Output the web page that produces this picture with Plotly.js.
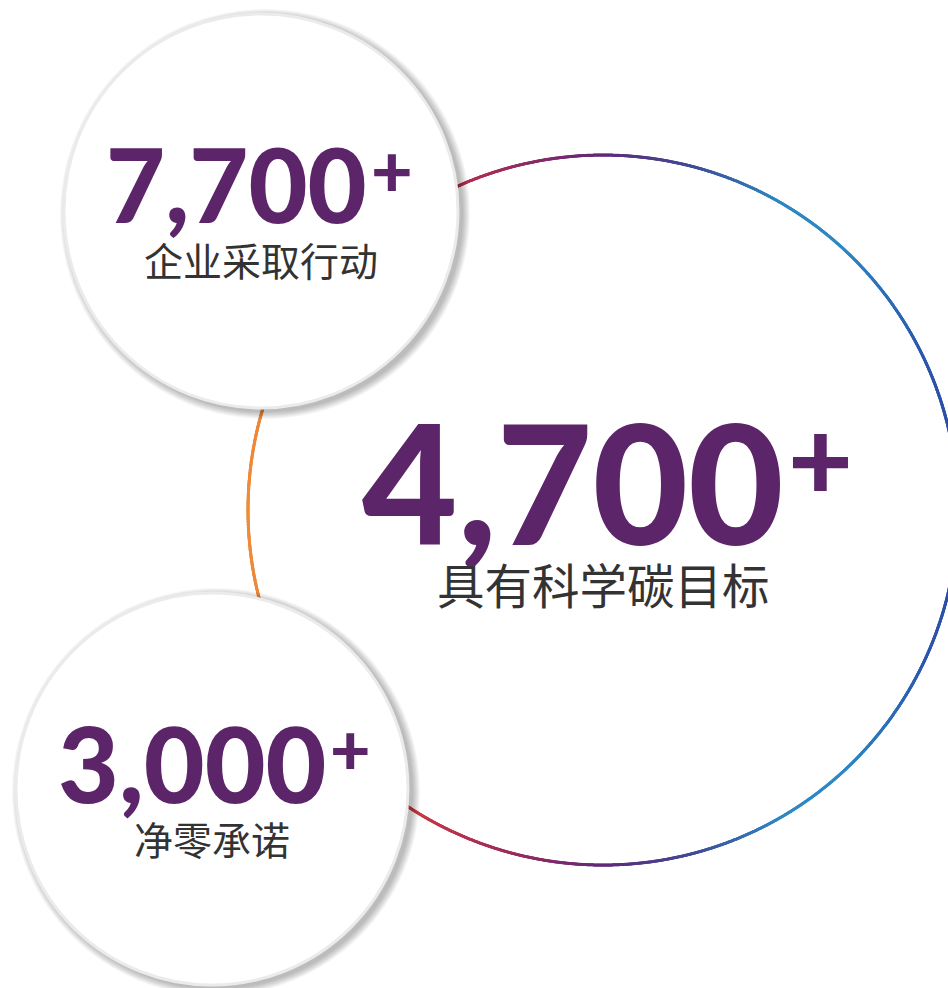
<!DOCTYPE html>
<html>
<head>
<meta charset="utf-8">
<script src="https://cdn.plot.ly/plotly-3.0.1.min.js"></script>
<style>
  html, body { margin: 0; padding: 0; background: #ffffff; }
  #chart { width: 948px; height: 988px; }
</style>
</head>
<body>
<div id="chart"></div>
<script>
// ---- data ----
const values = [7700, 4700, 3000];
const labels = ['企业采取行动', '具有科学碳目标', '净零承诺'];
const suffix = '+';

// ---- layout geometry (pixel coordinates) ----
const W = 948, H = 988;
const bubbles = [
  { cx: 261, cy: 211, r: 197, kind: 'disc', numSize: 102, numRight: 364, capY: 186.5, plusSize: 72, plusLeft: 373, plusY: 175, labelSize: 39, labelY: 261 },
  { cx: 603, cy: 510, r: 355, kind: 'ring', numSize: 165, numRight: 778, capY: 486, plusSize: 112, plusLeft: 793, plusY: 465, labelSize: 47.5, labelY: 586 },
  { cx: 212, cy: 789, r: 196, kind: 'disc', numSize: 105, numRight: 323, capY: 765.5, plusSize: 70, plusLeft: 332, plusY: 753, labelSize: 39, labelY: 840 }
];
const purple = '#5d2569';
const grey = '#333333';
const ringScale = [
  [0.00, '#ee8c3a'], [0.10, '#e2693c'], [0.22, '#d03c40'], [0.30, '#b5304f'],
  [0.42, '#842a6a'], [0.50, '#5f2a7a'], [0.63, '#3f4c98'], [0.75, '#2e88c2'],
  [0.84, '#2e88c4'], [0.95, '#2c58ad'], [1.00, '#2b4ca6']
];

// ---- ring (gradient stroke drawn as dense markers) ----
const ring = bubbles.find(b => b.kind === 'ring');
const N = 3600;
const rx = [], ry = [], rc = [];
for (let i = 0; i < N; i++) {
  const a = 2 * Math.PI * i / N;
  const x = ring.cx + ring.r * Math.cos(a);
  const y = ring.cy + ring.r * Math.sin(a);
  rx.push(x); ry.push(y); rc.push((x - (ring.cx - ring.r)) / (2 * ring.r));
}
const traces = [{
  type: 'scatter', mode: 'markers', x: rx, y: ry, hoverinfo: 'skip',
  marker: { size: 3, color: rc, colorscale: ringScale, cmin: 0, cmax: 1, line: { width: 0 } },
  showlegend: false
}];

// ---- disc shapes with soft shadow ----
const shapes = [];
bubbles.filter(b => b.kind === 'disc').forEach(b => {
  for (let k = 8; k >= 1; k--) {
    const rr = b.r + k, ox = 4, oy = 3;
    shapes.push({ type: 'circle', xref: 'x', yref: 'y', layer: 'above',
      x0: b.cx + ox - rr, x1: b.cx + ox + rr, y0: b.cy + oy - rr, y1: b.cy + oy + rr,
      fillcolor: 'rgba(0,0,0,0.035)', line: { width: 0 } });
  }
  shapes.push({ type: 'circle', xref: 'x', yref: 'y', layer: 'above',
    x0: b.cx - b.r, x1: b.cx + b.r, y0: b.cy - b.r, y1: b.cy + b.r,
    fillcolor: '#ffffff', line: { color: '#ebebeb', width: 3 } });
});

// ---- texts ----
const fmt = v => v.toLocaleString('en-US');
const annotations = [];
bubbles.forEach((b, i) => {
  annotations.push({ xref: 'x', yref: 'y', showarrow: false,
    x: b.numRight + 0.05 * b.numSize, y: b.capY - 0.03 * b.numSize, xanchor: 'right', yanchor: 'middle',
    text: fmt(values[i]), font: { family: 'Lato', size: b.numSize, color: purple, weight: 900 } });
  annotations.push({ xref: 'x', yref: 'y', showarrow: false,
    x: b.plusLeft - 0.06 * b.plusSize, y: b.plusY - 0.077 * b.plusSize, xanchor: 'left', yanchor: 'middle',
    text: suffix, font: { family: 'Lato', size: b.plusSize, color: purple, weight: 900 } });
  annotations.push({ xref: 'x', yref: 'y', showarrow: false,
    x: b.cx, y: b.labelY - 0.056 * b.labelSize, xanchor: 'center', yanchor: 'middle',
    text: labels[i], font: { family: 'Noto Sans CJK SC', size: b.labelSize, color: grey } });
});

const layout = {
  width: W, height: H,
  margin: { l: 0, r: 0, t: 0, b: 0, pad: 0 },
  paper_bgcolor: '#ffffff', plot_bgcolor: '#ffffff',
  xaxis: { range: [0, W], visible: false, fixedrange: true },
  yaxis: { range: [H, 0], visible: false, fixedrange: true },
  shapes: shapes, annotations: annotations, showlegend: false
};
Plotly.newPlot('chart', traces, layout, { displayModeBar: false, staticPlot: true });
</script>
</body>
</html>
